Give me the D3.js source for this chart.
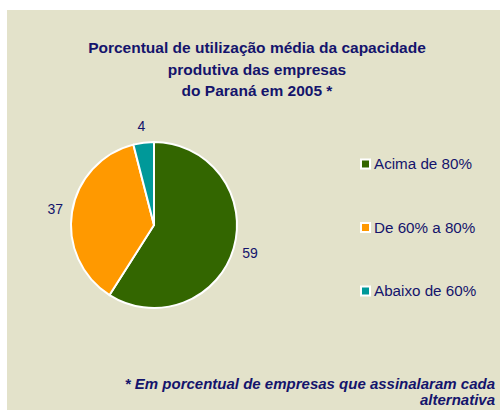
<!DOCTYPE html>
<html><head><meta charset="utf-8">
<script src="https://cdn.jsdelivr.net/npm/d3@7"></script>
<style>body{margin:0;background:#fff}svg{display:block}</style>
</head><body>
<svg id="c" width="500" height="410"></svg>
<script>
const categories = ["Acima de 80%", "De 60% a 80%", "Abaixo de 60%"];
const values = [59, 37, 4];
const colors = ["#336600", "#FF9900", "#009999"];
const titleLines = ["Porcentual de utilização média da capacidade", "produtiva das empresas", "do Paraná em 2005 *"];
const noteLines = ["* Em porcentual de empresas que assinalaram cada", "alternativa"];

const svg = d3.select("#c");
const ink = "#14146c";
const font = "'Liberation Sans', Arial, sans-serif";
svg.append("rect").attr("x", 7).attr("y", 10).attr("width", 493).attr("height", 400).attr("fill", "#E3E2CA");

svg.append("g").selectAll("text").data(titleLines).join("text")
  .attr("x", 257).attr("y", (d, i) => 53 + i * 21.5)
  .attr("text-anchor", "middle").attr("font-family", font).attr("font-weight", "bold")
  .attr("font-size", 15.5).attr("fill", ink).text(d => d);

const cx = 154, cy = 225, r = 83;
const pie = d3.pie().sort(null).value(d => d)(values);
const arc = d3.arc().innerRadius(0).outerRadius(r);
const g = svg.append("g").attr("transform", `translate(${cx},${cy})`);
g.selectAll("path").data(pie).join("path")
  .attr("d", arc).attr("fill", (d, i) => colors[i])
  .attr("stroke", "#fff").attr("stroke-width", 2).attr("stroke-linejoin", "round");
const labelArc = d3.arc().innerRadius(r + 17).outerRadius(r + 17);
g.selectAll("text").data(pie).join("text")
  .attr("transform", d => { const c = labelArc.centroid(d); return `translate(${c[0]},${c[1]})`; })
  .attr("text-anchor", "middle").attr("dy", "0.35em")
  .attr("font-family", font).attr("font-size", 14).attr("fill", ink)
  .text(d => d.data);

const leg = svg.append("g").selectAll("g").data(categories).join("g")
  .attr("transform", (d, i) => `translate(361,${164 + i * 63.5})`);
leg.append("rect").attr("x", 0).attr("y", -4.5).attr("width", 9).attr("height", 9)
  .attr("fill", (d, i) => colors[i]).attr("stroke", "#fff").attr("stroke-width", 2);
leg.append("text").attr("x", 13).attr("dy", "0.36em")
  .attr("font-family", font).attr("font-size", 15.2).attr("fill", ink).text(d => d);

svg.append("g").selectAll("text").data(noteLines).join("text")
  .attr("x", 495).attr("y", (d, i) => 389 + i * 16)
  .attr("text-anchor", "end").attr("font-family", font).attr("font-weight", "bold")
  .attr("font-style", "italic").attr("font-size", 15).attr("fill", ink).text(d => d);
</script>
</body></html>
